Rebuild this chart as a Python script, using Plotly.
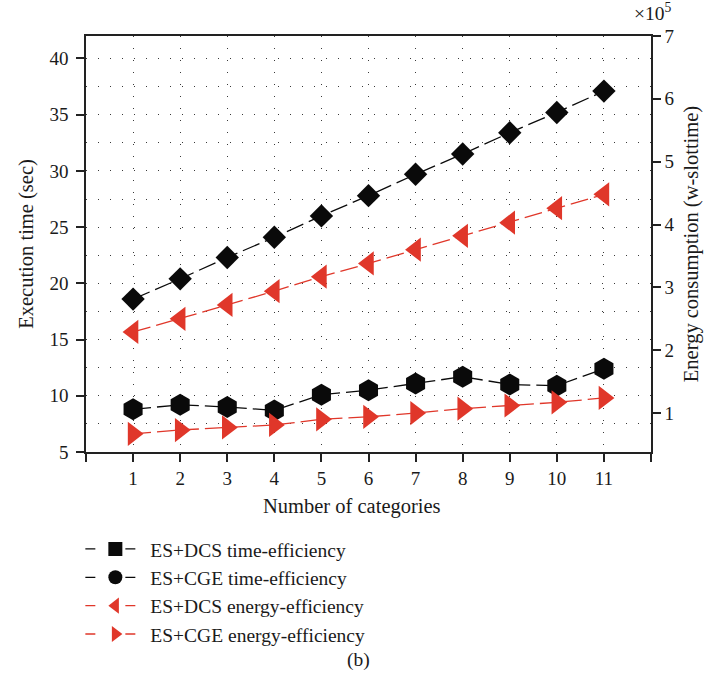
import plotly.graph_objects as go

# Number of categories on the x axis
categories = list(range(1, 12))

# Execution time (sec), left axis
dcs_time = [18.6, 20.4, 22.3, 24.1, 26.0, 27.8, 29.7, 31.5, 33.4, 35.2, 37.1]
cge_time = [8.8, 9.2, 9.0, 8.7, 10.1, 10.5, 11.1, 11.7, 11.0, 10.9, 12.4]

# Energy consumption (w-slottime, in units of 1e5), right axis
dcs_energy = [2.29, 2.50, 2.72, 2.94, 3.17, 3.38, 3.60, 3.82, 4.03, 4.26, 4.48]
cge_energy = [0.67, 0.73, 0.77, 0.81, 0.90, 0.94, 1.00, 1.07, 1.12, 1.17, 1.24]

left_ticks = [5, 10, 15, 20, 25, 30, 35, 40]
right_ticks = [1, 2, 3, 4, 5, 6, 7]

FONT = "Liberation Serif"
BLACK = "#0a0a0a"
RED = "#e0372a"
DASH = "18px,6px"

fig = go.Figure()

series = [
    ("ES+DCS time-efficiency", dcs_time, "y", BLACK, "diamond", 18, "square"),
    ("ES+CGE time-efficiency", cge_time, "y", BLACK, "hexagon", 22, "circle"),
    ("ES+DCS energy-efficiency", dcs_energy, "y2", RED, "triangle-left", 21, "triangle-left"),
    ("ES+CGE energy-efficiency", cge_energy, "y2", RED, "triangle-right", 21, "triangle-right"),
]

for name, vals, yax, color, sym, size, legend_sym in series:
    fig.add_trace(go.Scatter(
        x=categories, y=vals, yaxis=yax, mode="lines+markers", name=name,
        showlegend=False,
        line=dict(color=color, width=1.3, dash=DASH),
        marker=dict(symbol=sym, size=size, color=color, line=dict(width=0)),
    ))

# Legend entries use plain square / circle glyphs
for name, vals, yax, color, sym, size, legend_sym in series:
    fig.add_trace(go.Scatter(
        x=[None], y=[None], yaxis=yax, mode="lines+markers", name=name,
        line=dict(color=color, width=1.3, dash="10px,30px"),
        marker=dict(symbol=legend_sym, size=14, color=color, line=dict(width=0)),
    ))

grid = dict(showgrid=True, gridcolor="#3a3a3a", gridwidth=1, griddash="1px,11px")

fig.update_layout(
    width=712, height=684,
    margin=dict(l=86, r=61, t=36, b=232),
    paper_bgcolor="white", plot_bgcolor="white",
    font=dict(family=FONT, size=19, color="#1a1a1a"),
    showlegend=True,
    legend=dict(
        x=-0.01, y=-0.187, xanchor="left", yanchor="top",
        bgcolor="rgba(0,0,0,0)", font=dict(size=19.5), itemwidth=60,
        tracegroupgap=0,
    ),
    xaxis=dict(
        range=[0, 12], tickvals=categories,
        ticks="outside", ticklen=8, tickwidth=1.5, tickcolor="#222",
        showline=True, linecolor="#222", linewidth=1.5, mirror=True,
        zeroline=False,
        minor=dict(tick0=0, dtick=12, ticks="outside", ticklen=8, tickwidth=1.5,
                   tickcolor="#222", showgrid=False),
        **grid,
    ),
    yaxis=dict(
        range=[5, 42], tickvals=left_ticks,
        ticks="outside", ticklen=8, tickwidth=1.5, tickcolor="#222",
        showline=True, linecolor="#222", linewidth=1.5, mirror=True,
        zeroline=False, ticklabelstandoff=4,
        title=dict(text="Execution time (sec)", font=dict(size=20.5), standoff=10),
        minor=dict(dtick=2.5, showgrid=True, gridcolor="#3a3a3a", gridwidth=1,
                   griddash="1px,11px"),
        **grid,
    ),
    yaxis2=dict(
        range=[0.38, 7], tickvals=right_ticks, overlaying="y", side="right",
        ticks="outside", ticklen=8, tickwidth=1.5, tickcolor="#222",
        showline=True, linecolor="#222", linewidth=1.5,
        showgrid=False, zeroline=False,
        title=dict(text="Energy consumption (w-slottime)", font=dict(size=20.5), standoff=10),
    ),
    annotations=[
        dict(text="Number of categories", xref="paper", yref="paper",
             x=0.471, y=-0.13, xanchor="center", yanchor="middle",
             showarrow=False, font=dict(size=20.5)),
        dict(text="×10<sup>5</sup>", xref="paper", yref="paper",
             x=1.003, y=1.058, xanchor="center", yanchor="middle",
             showarrow=False, font=dict(size=19.5)),
        dict(text="(b)", xref="paper", yref="paper",
             x=0.482, y=-0.5, xanchor="center", yanchor="middle",
             showarrow=False, font=dict(size=19.5)),
    ],
)

fig.write_html("out.html")
